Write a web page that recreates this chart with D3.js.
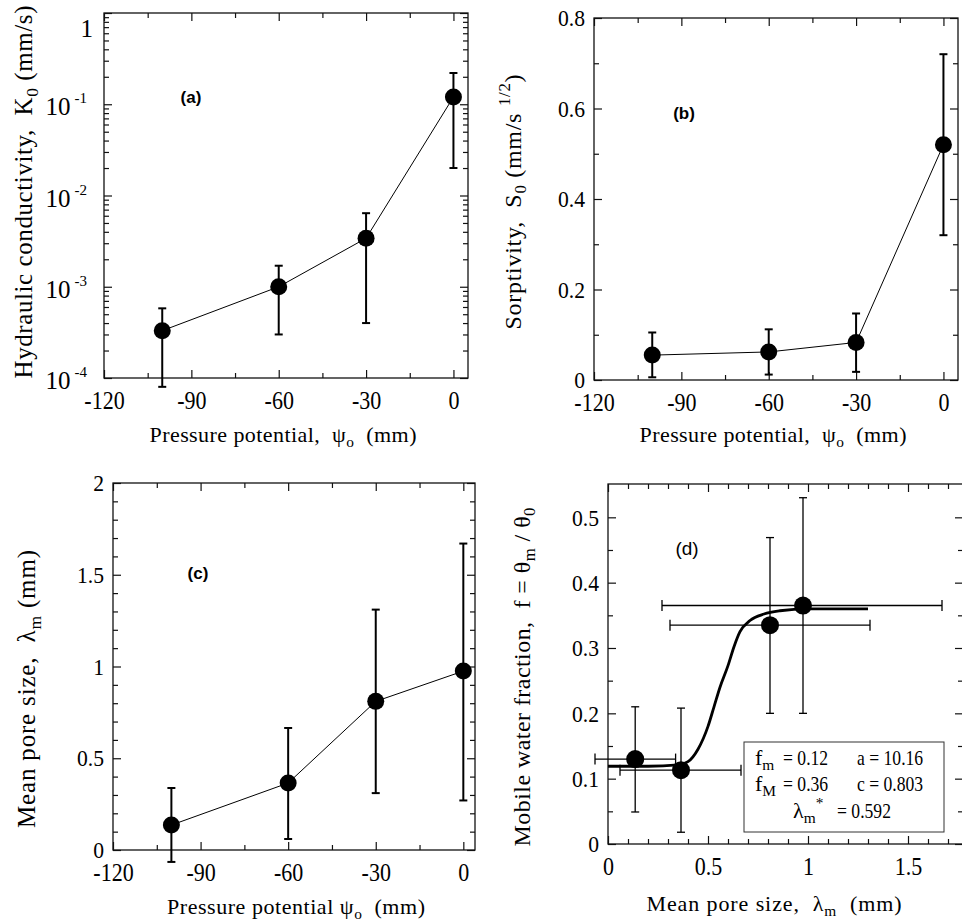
<!DOCTYPE html>
<html>
<head>
<meta charset="utf-8">
<script src="https://cdn.jsdelivr.net/npm/d3@7"></script>
<style>
  body { margin: 0; background: #fff; }
  svg text { font-family: "Liberation Serif", "Times New Roman", serif; fill: #000; white-space: pre; }
</style>
</head>
<body>
<div id="chart"></div>
<script>
// pressure potential (mm) for panels a-c
const psi = [-100, -60, -30, 0];
const psiTicks = [-120, -90, -60, -30, 0];
const psiMinor = [-105, -75, -45, -15];

// (a) hydraulic conductivity K0 (mm/s)
const k0 = [3.3e-4, 1.0e-3, 3.4e-3, 0.12];
const k0Hi = [5.8e-4, 1.7e-3, 6.4e-3, 0.22];
const k0Lo = [8e-5, 3.0e-4, 4.0e-4, 0.02];
const kTicks = [1e-4, 1e-3, 1e-2, 1e-1, 1];

// (b) sorptivity S0
const s0 = [0.055, 0.062, 0.083, 0.52];
const s0Hi = [0.105, 0.112, 0.147, 0.72];
const s0Lo = [0.006, 0.012, 0.018, 0.32];
const sTicks = [0, 0.2, 0.4, 0.6, 0.8];
const sMinor = [0.1, 0.3, 0.5, 0.7];

// (c) mean pore size lambda_m (mm)
const lam = [0.136, 0.365, 0.81, 0.975];
const lamHi = [0.338, 0.665, 1.31, 1.67];
const lamLo = [-0.065, 0.06, 0.31, 0.27];
const lamTicks = [0, 0.5, 1, 1.5, 2];
const lamMinor = [0.1, 0.2, 0.3, 0.4, 0.6, 0.7, 0.8, 0.9, 1.1, 1.2, 1.3, 1.4, 1.6, 1.7, 1.8, 1.9];

// (d) mobile water fraction vs lambda_m
const frac = [0.13, 0.113, 0.335, 0.365];
const fracHi = [0.21, 0.208, 0.469, 0.53];
const fracLo = [0.049, 0.018, 0.2, 0.2];
const fitLam = [0, 0.2, 0.35, 0.40, 0.45, 0.50, 0.53, 0.56, 0.60, 0.63, 0.66, 0.71, 0.78, 0.86, 1.0, 1.30];
const fitF = [0.119, 0.119, 0.121, 0.126, 0.145, 0.18, 0.21, 0.24, 0.273, 0.302, 0.325, 0.342, 0.352, 0.357, 0.36, 0.36];
const dxTicks = [0, 0.5, 1, 1.5];
const dxMinor = [0.1, 0.2, 0.3, 0.4, 0.6, 0.7, 0.8, 0.9, 1.1, 1.2, 1.3, 1.4, 1.6, 1.7];
const fTicks = [0, 0.1, 0.2, 0.3, 0.4, 0.5];
const fMinor = [0.05, 0.15, 0.25, 0.35, 0.45];
const fitRows = [["m", "0.12", "a = 10.16"], ["M", "0.36", "c = 0.803"]];
const fitStar = "0.592";

const svg = d3.select("#chart").append("svg")
  .attr("width", 962)
  .attr("height", 924);

const ink = "#111";

// squeeze glyphs a bit, the scanned figure uses a narrow face
function squeeze(sel, k) {
  sel.each(function () {
    const l = this.getComputedTextLength();
    if (l > 0) d3.select(this).attr("textLength", l * k).attr("lengthAdjust", "spacingAndGlyphs");
  });
}

// text with sub/superscripts
function rich(sel, parts, size) {
  let shift = 0;
  parts.forEach(p => {
    const target = p.sub ? size * 0.22 : p.sup ? -size * 0.45 : 0;
    sel.append("tspan")
      .attr("dy", target - shift)
      .style("font-size", (p.sub || p.sup ? size * 0.7 : size) + "px")
      .text(p.t);
    shift = target;
  });
  return sel;
}

function panel(box) {
  const g = svg.append("g").attr("transform", `translate(${box.l},${box.t})`);
  g.w = box.r - box.l;
  g.h = box.b - box.t;
  return g;
}

function addAxis(g, axis, tr) {
  const a = g.append("g").attr("transform", tr).call(axis);
  a.select(".domain").remove();
  a.selectAll("line").attr("stroke", ink).attr("stroke-width", 1.2);
  a.selectAll("text").style("font-size", "25px").style("font-family", null);
  return a;
}

function axes(g, x, y, xt, xm, yt, ym, yLabels) {
  const fmt = d => String(d);
  const bx = addAxis(g, d3.axisBottom(x).tickValues(xt).tickSize(-8).tickPadding(13).tickFormat(fmt), `translate(0,${g.h})`);
  squeeze(bx.selectAll("text"), 0.88);
  addAxis(g, d3.axisBottom(x).tickValues(xm).tickSize(-5).tickFormat(""), `translate(0,${g.h})`);
  addAxis(g, d3.axisTop(x).tickValues(xt).tickSize(-8).tickFormat(""), "translate(0,0)");
  addAxis(g, d3.axisTop(x).tickValues(xm).tickSize(-5).tickFormat(""), "translate(0,0)");
  const ly = addAxis(g, d3.axisLeft(y).tickValues(yt).tickSize(-8).tickPadding(9).tickFormat(yLabels ? fmt : ""), "translate(0,0)");
  ly.selectAll("text").style("font-size", "24px");
  squeeze(ly.selectAll("text"), 0.9);
  addAxis(g, d3.axisLeft(y).tickValues(ym).tickSize(-5).tickFormat(""), "translate(0,0)");
  addAxis(g, d3.axisRight(y).tickValues(yt).tickSize(-8).tickFormat(""), `translate(${g.w},0)`);
  addAxis(g, d3.axisRight(y).tickValues(ym).tickSize(-5).tickFormat(""), `translate(${g.w},0)`);
  g.append("rect")
    .attr("width", g.w).attr("height", g.h)
    .attr("fill", "none").attr("stroke", ink).attr("stroke-width", 1.3);
}

function errY(g, xs, lo, hi, x, y, cap, sw) {
  xs.forEach((v, i) => {
    g.append("line").attr("x1", x(v)).attr("x2", x(v)).attr("y1", y(lo[i])).attr("y2", y(hi[i]))
      .attr("stroke", "#000").attr("stroke-width", sw);
    [lo[i], hi[i]].forEach(e => {
      g.append("line").attr("x1", x(v) - cap).attr("x2", x(v) + cap).attr("y1", y(e)).attr("y2", y(e))
        .attr("stroke", "#000").attr("stroke-width", sw);
    });
  });
}

function series(g, xs, ys, x, y, r) {
  g.append("path")
    .attr("d", d3.line().x((d, i) => x(xs[i])).y(d => y(d))(ys))
    .attr("fill", "none").attr("stroke", "#000").attr("stroke-width", 1);
  g.selectAll(null).data(ys).enter().append("circle")
    .attr("cx", (d, i) => x(xs[i])).attr("cy", d => y(d)).attr("r", r).attr("fill", "#000");
}

function yTitle(xb, cy, parts, size, len) {
  const t = svg.append("text")
    .attr("transform", `translate(${xb},${cy}) rotate(-90)`)
    .attr("text-anchor", "middle")
    .attr("textLength", len).attr("lengthAdjust", "spacing");
  rich(t, parts, size);
}

function xTitle(cx, yb, parts, size, len) {
  const t = svg.append("text")
    .attr("x", cx).attr("y", yb)
    .attr("text-anchor", "middle")
    .attr("textLength", len).attr("lengthAdjust", "spacing");
  rich(t, parts, size);
}

function tag(x, y, txt, bold) {
  svg.append("text").attr("x", x).attr("y", y).attr("text-anchor", "middle")
    .style("font-family", "'Liberation Sans', Arial, sans-serif")
    .style("font-weight", bold ? "bold" : "normal")
    .style("font-size", bold ? "17px" : "19px")
    .text(txt);
}

const psiTitle = [{ t: "Pressure potential,  ψ" }, { t: "o", sub: true }, { t: "  (mm)" }];

// ---------- (a)
const gA = panel({ l: 104, t: 13, r: 468, b: 378 });
const xA = d3.scaleLinear().domain([-120, 5]).range([0, gA.w]);
const yA = d3.scaleLog().domain([1e-4, 1]).range([gA.h, 0]);
const kMinor = [];
kTicks.slice(0, -1).forEach(d => d3.range(2, 10).forEach(m => kMinor.push(d * m)));
axes(gA, xA, yA, psiTicks, psiMinor, kTicks, kMinor, false);
kTicks.forEach(v => {
  const e = Math.round(Math.log10(v));
  const t = gA.append("text").attr("text-anchor", "end").style("font-size", "25px");
  if (e === 0) {
    t.attr("x", -11).attr("y", yA(v) + 24).text("1");
  } else {
    t.attr("x", -17).attr("y", yA(v) + 11);
    t.append("tspan").text("10");
    t.append("tspan").attr("dx", 4).attr("dy", -12).style("font-size", "15px").text(e);
  }
});
errY(gA, psi, k0Lo, k0Hi, xA, yA, 4, 2);
series(gA, psi, k0, xA, yA, 8.5);
tag(191, 103, "(a)", true);
yTitle(32, 192, [{ t: "Hydraulic conductivity,  K" }, { t: "0", sub: true }, { t: " (mm/s)" }], 25, 373);
xTitle(283, 442, psiTitle, 22, 267);

// ---------- (b)
const gB = panel({ l: 594, t: 18, r: 958, b: 380 });
const xB = d3.scaleLinear().domain([-120, 5]).range([0, gB.w]);
const yB = d3.scaleLinear().domain([0, 0.8]).range([gB.h, 0]);
axes(gB, xB, yB, psiTicks, psiMinor, sTicks, sMinor, true);
errY(gB, psi, s0Lo, s0Hi, xB, yB, 4, 2);
series(gB, psi, s0, xB, yB, 8.5);
tag(684, 119, "(b)", true);
yTitle(521, 202, [{ t: "Sorptivity,  S" }, { t: "0", sub: true }, { t: " (mm/s " }, { t: "1/2", sup: true }, { t: ")" }], 24, 255);
xTitle(773, 442, psiTitle, 22, 267);

// ---------- (c)
const gC = panel({ l: 113, t: 483, r: 475, b: 850 });
const xC = d3.scaleLinear().domain([-120, 4]).range([0, gC.w]);
const yC = d3.scaleLinear().domain([0, 2]).range([gC.h, 0]);
axes(gC, xC, yC, psiTicks, psiMinor, lamTicks, lamMinor, true);
errY(gC, psi, lamLo, lamHi, xC, yC, 4, 2);
series(gC, psi, lam, xC, yC, 8.5);
tag(198, 579, "(c)", true);
yTitle(35, 689, [{ t: "Mean pore size,  λ" }, { t: "m", sub: true }, { t: " (mm)" }], 25, 278);
xTitle(296, 914, [{ t: "Pressure potential ψ" }, { t: "o", sub: true }, { t: "  (mm)" }], 22, 258);

// ---------- (d)
const gD = panel({ l: 608, t: 484, r: 963, b: 844 });
const xD = d3.scaleLinear().domain([0, 1.775]).range([0, gD.w]);
const yD = d3.scaleLinear().domain([0, 0.551]).range([gD.h, 0]);
axes(gD, xD, yD, dxTicks, dxMinor, fTicks, fMinor, true);

// fitted curve
gD.append("path")
  .attr("d", d3.line().x((d, i) => xD(fitLam[i])).y(d => yD(d)).curve(d3.curveMonotoneX)(fitF))
  .attr("fill", "none").attr("stroke", "#000").attr("stroke-width", 2.8);

// error bars both ways
errY(gD, lam, fracLo, fracHi, xD, yD, 4, 1.3);
lam.forEach((v, i) => {
  const yy = yD(frac[i]);
  gD.append("line").attr("x1", xD(lamLo[i])).attr("x2", xD(lamHi[i])).attr("y1", yy).attr("y2", yy)
    .attr("stroke", "#000").attr("stroke-width", 1.3);
  [lamLo[i], lamHi[i]].forEach(e => {
    gD.append("line").attr("x1", xD(e)).attr("x2", xD(e)).attr("y1", yy - 5.5).attr("y2", yy + 5.5)
      .attr("stroke", "#000").attr("stroke-width", 1.3);
  });
});
gD.selectAll(null).data(frac).enter().append("circle")
  .attr("cx", (d, i) => xD(lam[i])).attr("cy", d => yD(d)).attr("r", 9).attr("fill", "#000");

tag(687, 555, "(d)", false);

// fit parameter box
svg.append("rect").attr("x", 744).attr("y", 742).attr("width", 200).attr("height", 90)
  .attr("fill", "#fff").attr("stroke", "#333").attr("stroke-width", 1);
fitRows.forEach((row, i) => {
  const yb = 765 + i * 26;
  const t = svg.append("text").attr("x", 755).attr("y", yb).style("font-size", "22px");
  rich(t, [{ t: "f" }, { t: row[0], sub: true }], 22);
  const a = svg.append("text").attr("x", 783).attr("y", yb).style("font-size", "22px").text("= " + row[1]);
  const b = svg.append("text").attr("x", 857).attr("y", yb).style("font-size", "22px").text(row[2]);
  squeeze(a, 0.8);
  squeeze(b, 0.8);
});
const st = svg.append("text").attr("x", 793).attr("y", 818).style("font-size", "22px");
rich(st, [{ t: "λ" }, { t: "m", sub: true }, { t: "*", sup: true }], 22);
const sv = svg.append("text").attr("x", 837).attr("y", 818).style("font-size", "22px").text("= " + fitStar);
squeeze(sv, 0.8);

yTitle(530, 677, [{ t: "Mobile water fraction,  f = θ" }, { t: "m", sub: true }, { t: " / θ" }, { t: "0", sub: true }], 24, 339);
xTitle(774, 911, [{ t: "Mean pore size,  λ" }, { t: "m", sub: true }, { t: "  (mm)" }], 22, 255);
</script>
</body>
</html>
